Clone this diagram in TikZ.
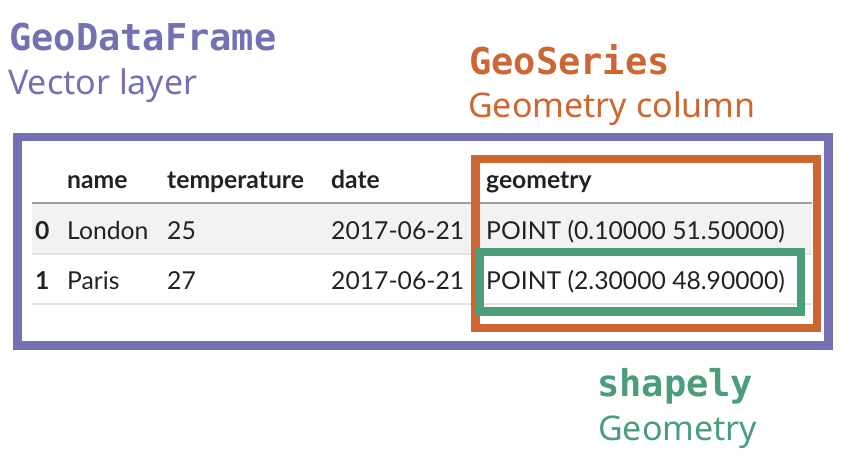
\documentclass[tikz,border=0pt]{standalone}
\usepackage{fontspec}
\setmainfont{Lato}
\newfontfamily\labelfont{Noto Sans}
\newfontfamily\codefont{DejaVu Sans Mono}
\definecolor{gdfpurple}{HTML}{7570B3}
\definecolor{gsorange}{HTML}{CC6633}
\definecolor{shpgreen}{HTML}{4A9E7A}
\definecolor{celltext}{HTML}{222222}
\definecolor{rowshade}{HTML}{F2F2F2}
\definecolor{headline}{HTML}{A0A0A0}
\definecolor{rowline}{HTML}{E2E2E2}

\begin{document}
\begin{tikzpicture}[x=1pt, y=-1pt,
  cell/.style={anchor=base west, inner sep=0pt, text=celltext,
    font=\fontsize{24.7}{30}\selectfont},
  head/.style={cell, font=\fontsize{24.7}{30}\selectfont\bfseries},
  title/.style={anchor=base west, inner sep=0pt,
    font=\codefont\fontsize{37}{44}\selectfont\bfseries},
  subtitle/.style={anchor=base west, inner sep=0pt,
    font=\labelfont\fontsize{34}{40}\selectfont},
  box/.style={line width=8.5pt}]

  % Page
  \useasboundingbox (0,0) rectangle (842,462);

  % Table parameters
  \def\colidx{35}      % index column
  \def\colname{67}     % name
  \def\coltemp{167}    % temperature
  \def\coldate{331}    % date
  \def\colgeom{486}    % geometry
  \def\rowhead{189}    % baselines
  \def\rowa{239}
  \def\rowb{289}

  % Row shading and rules
  \fill[rowshade] (32,203) rectangle (812,254);
  \draw[headline, line width=2pt] (32,203) -- (812,203);
  \draw[rowline, line width=1.5pt] (32,254) -- (812,254);
  \draw[rowline, line width=1.5pt] (32,304) -- (812,304);

  % Header
  \node[head] (hname) at (\colname,\rowhead) {name};
  \node[head] (htemp) at (\coltemp,\rowhead) {temperature};
  \node[head] (hdate) at (\coldate,\rowhead) {date};
  \node[head] (hgeom) at (\colgeom,\rowhead) {geometry};

  % Row 0
  \node[head] (idxa) at (\colidx,\rowa) {0};
  \node[cell] (namea) at (\colname,\rowa) {London};
  \node[cell] (tempa) at (\coltemp,\rowa) {25};
  \node[cell] (datea) at (\coldate,\rowa) {2017-06-21};
  \node[cell] (geoma) at (\colgeom,\rowa) {POINT (0.10000 51.50000)};

  % Row 1
  \node[head] (idxb) at (\colidx,\rowb) {1};
  \node[cell] (nameb) at (\colname,\rowb) {Paris};
  \node[cell] (tempb) at (\coltemp,\rowb) {27};
  \node[cell] (dateb) at (\coldate,\rowb) {2017-06-21};
  \node[cell] (geomb) at (\colgeom,\rowb) {POINT (2.30000 48.90000)};

  % Frames
  \draw[box, gdfpurple] (17.5,137) rectangle (828.5,345.5);
  \draw[box, gsorange] (475.5,159) rectangle (817,328);
  \draw[box, shpgreen] (480,252) rectangle (801,311.5);

  % Labels
  \node[title, text=gdfpurple] (gdf) at (9,51) {GeoDataFrame};
  \node[subtitle, text=gdfpurple] (gdfsub) at (8,95) {Vector layer};
  \node[title, text=gsorange] (gs) at (469,75) {GeoSeries};
  \node[subtitle, text=gsorange] (gssub) at (468,118) {Geometry column};
  \node[title, text=shpgreen] (shp) at (597,396) {shapely};
  \node[subtitle, text=shpgreen] (shpsub) at (598,440) {Geometry};

\end{tikzpicture}
\end{document}
